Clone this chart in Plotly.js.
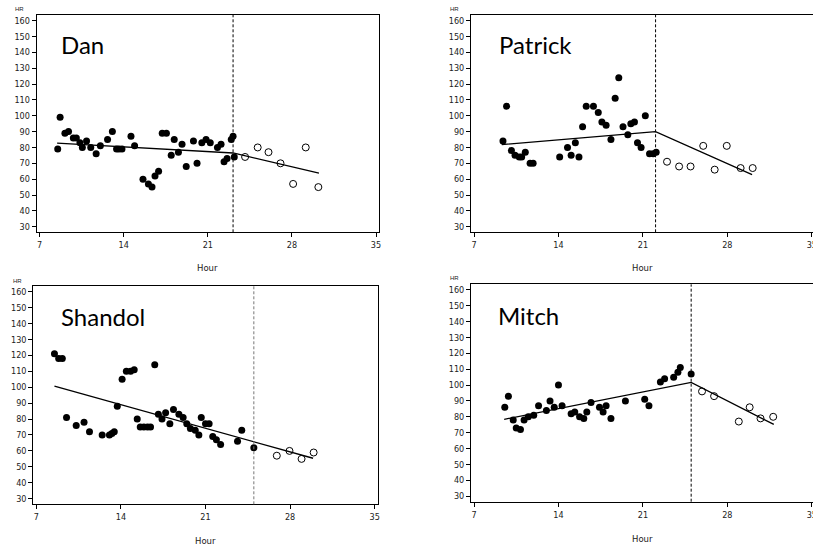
<!DOCTYPE html>
<html>
<head>
<meta charset="utf-8">
<script src="https://cdn.plot.ly/plotly-3.0.1.min.js"></script>
<style>html,body{margin:0;padding:0;background:#fff;}#chart{width:813px;height:548px;}</style>
</head>
<body>
<div id="chart"></div>
<script>
// ---------- Data ----------
const panelNames = ["Dan", "Patrick", "Shandol", "Mitch"];
const xTickVals = [7, 14, 21, 28, 35];
const yTickVals = [30, 40, 50, 60, 70, 80, 90, 100, 110, 120, 130, 140, 150, 160];

// Dan
const danFilledX = [8.5, 8.7, 9.1, 9.4, 9.8, 10.05, 10.35, 10.55, 10.9, 11.25, 11.7, 12.05, 12.65, 13.05, 13.4, 13.6, 13.85, 14.6, 14.9, 15.6, 16.05, 16.35, 16.6, 16.9, 17.2, 17.55, 17.95, 18.2, 18.55, 18.85, 19.2, 19.8, 20.1, 20.5, 20.85, 21.2, 21.8, 22.1, 22.35, 22.6, 22.95, 23.1, 23.2];
const danFilledY = [79, 99, 89, 90, 86, 86, 83, 80, 84, 80, 76, 81, 85, 90, 79, 79, 79, 87, 81, 60, 57, 55, 62, 65, 89, 89, 75, 85, 77, 82, 68, 84, 70, 83, 85, 83, 80, 82, 71, 73, 85, 87, 74];
const danOpenX = [24.1, 25.15, 26.05, 27.05, 28.1, 29.15, 30.2];
const danOpenY = [74, 80, 77, 70, 57, 80, 55];
const danLineX = [8.45, 23.1, 30.25];
const danLineY = [82.7, 76.5, 63.8];
const danBreak = 23.1;

// Patrick
const patFilledX = [9.4, 9.7, 10.1, 10.4, 10.75, 10.95, 11.25, 11.65, 11.9, 14.1, 14.75, 15.05, 15.4, 15.7, 16.0, 16.3, 16.9, 17.3, 17.6, 17.95, 18.35, 18.7, 19.0, 19.35, 19.75, 20.0, 20.3, 20.55, 20.85, 21.2, 21.55, 21.85, 22.1];
const patFilledY = [84, 106, 78, 75, 74, 74, 77, 70, 70, 74, 80, 75, 83, 74, 93, 106, 106, 102, 96, 94, 85, 111, 124, 93, 88, 95, 96, 83, 80, 100, 76, 76, 77];
const patOpenX = [23.0, 24.0, 24.95, 26.0, 26.95, 27.95, 29.1, 30.1];
const patOpenY = [71, 68, 68, 81, 66, 81, 67, 67];
const patLineX = [9.3, 22.05, 30.05];
const patLineY = [81.8, 90, 62.9];
const patBreak = 22.05;

// Shandol
const shaFilledX = [8.5, 8.85, 9.15, 9.5, 10.3, 10.95, 11.4, 12.45, 13.05, 13.25, 13.45, 13.7, 14.1, 14.45, 14.8, 15.1, 15.35, 15.6, 15.9, 16.2, 16.45, 16.8, 17.1, 17.4, 17.7, 18.05, 18.35, 18.8, 19.15, 19.45, 19.75, 20.15, 20.45, 20.65, 21.0, 21.3, 21.6, 21.9, 22.25, 23.65, 24.0, 25.0];
const shaFilledY = [121, 118, 118, 81, 76, 78, 72, 70, 70, 71, 72, 88, 105, 110, 110, 111, 80, 75, 75, 75, 75, 114, 83, 80, 84, 77, 86, 83, 81, 77, 74, 73, 70, 81, 77, 77, 69, 67, 64, 66, 73, 62];
const shaOpenX = [26.9, 27.95, 28.95, 29.95];
const shaOpenY = [57, 60, 55, 59];
const shaLineX = [8.5, 25, 29.9];
const shaLineY = [100.6, 65.8, 55.4];
const shaBreak = 25;

// Mitch
const mitFilledX = [9.55, 9.85, 10.25, 10.5, 10.85, 11.15, 11.5, 11.95, 12.35, 13.0, 13.3, 13.65, 14.0, 14.3, 15.05, 15.35, 15.75, 16.1, 16.35, 16.7, 17.4, 17.7, 17.95, 18.35, 19.55, 21.15, 21.5, 22.45, 22.8, 23.55, 23.9, 24.1, 25.0];
const mitFilledY = [86, 93, 78, 73, 72, 78, 80, 81, 87, 84, 90, 86, 100, 87, 82, 83, 80, 79, 83, 89, 86, 83, 87, 79, 90, 91, 87, 102, 104, 105, 108, 111, 107];
const mitOpenX = [25.9, 26.9, 28.95, 29.85, 30.75, 31.8];
const mitOpenY = [96, 93, 77, 86, 79, 80];
const mitLineX = [9.5, 25, 31.85];
const mitLineY = [78.4, 101.7, 75.2];
const mitBreak = 25;

// ---------- Layout helpers ----------
const W = 813, H = 548;
const px = v => v / W;
const py = v => 1 - v / H;

const panels = [
  {fx: danFilledX, fy: danFilledY, ox: danOpenX, oy: danOpenY, lx: danLineX, ly: danLineY, brk: danBreak,
   dom: [36.7, 379, 15, 232.3], xr: [6.75, 35.25], name: {x: 59, y: 44}, hr: {x: 19, y: 9}, hour: {x: 207, y: 268}, dashColor: "#000"},
  {fx: patFilledX, fy: patFilledY, ox: patOpenX, oy: patOpenY, lx: patLineX, ly: patLineY, brk: patBreak,
   dom: [471, 813, 15, 232.3], xr: [6.75, 35.1], name: {x: 497, y: 44}, hr: {x: 454.5, y: 9}, hour: {x: 642, y: 268}, dashColor: "#000"},
  {fx: shaFilledX, fy: shaFilledY, ox: shaOpenX, oy: shaOpenY, lx: shaLineX, ly: shaLineY, brk: shaBreak,
   dom: [33.3, 377.7, 286, 504.3], xr: [6.75, 35.25], name: {x: 59, y: 316}, hr: {x: 17.7, y: 281.3}, hour: {x: 205.5, y: 541.3}, dashColor: "#777"},
  {fx: mitFilledX, fy: mitFilledY, ox: mitOpenX, oy: mitOpenY, lx: mitLineX, ly: mitLineY, brk: mitBreak,
   dom: [471, 813, 284.3, 501.7], xr: [6.75, 35.1], name: {x: 496, y: 315}, hr: {x: 454.5, y: 278.3}, hour: {x: 642.5, y: 539}, dashColor: "#000"}
];

const tickFont = {family: "'Liberation Sans Narrow', 'Arial Narrow', 'DejaVu Sans Condensed', sans-serif", size: 9, color: "#222"};
const traces = [];
const layout = {
  width: W, height: H,
  margin: {l: 0, r: 0, t: 0, b: 0},
  paper_bgcolor: "#fff", plot_bgcolor: "#fff",
  showlegend: false,
  shapes: [], annotations: []
};

panels.forEach((p, i) => {
  const n = i + 1;
  const xa = "x" + (n === 1 ? "" : n);
  const ya = "y" + (n === 1 ? "" : n);
  traces.push({x: p.lx, y: p.ly, xaxis: xa, yaxis: ya, type: "scatter", mode: "lines",
    line: {color: "#000", width: 1.3}, hoverinfo: "skip"});
  traces.push({x: p.fx, y: p.fy, xaxis: xa, yaxis: ya, type: "scatter", mode: "markers",
    marker: {symbol: "circle", size: 7, color: "#000"}});
  traces.push({x: p.ox, y: p.oy, xaxis: xa, yaxis: ya, type: "scatter", mode: "markers",
    marker: {symbol: "circle-open", size: 7, color: "#000", line: {width: 1}}});

  const axCommon = {showline: true, mirror: true, linecolor: "#000", linewidth: 1,
    ticks: "outside", ticklen: 4, tickwidth: 1, tickcolor: "#000",
    showgrid: false, zeroline: false, tickfont: tickFont, fixedrange: true,
    ticklabeloverflow: "allow"};
  layout["xaxis" + (n === 1 ? "" : n)] = Object.assign({}, axCommon, {
    domain: [px(p.dom[0]), px(p.dom[1])], range: p.xr, anchor: ya,
    tickmode: "array", tickvals: xTickVals, ticktext: xTickVals.map(String)});
  layout["yaxis" + (n === 1 ? "" : n)] = Object.assign({}, axCommon, {
    domain: [py(p.dom[3]), py(p.dom[2])], range: [26.5, 163.5], anchor: xa,
    tickmode: "array", tickvals: yTickVals, ticktext: yTickVals.map(String)});

  layout.shapes.push({type: "line", xref: xa, yref: ya + " domain", x0: p.brk, x1: p.brk, y0: 0, y1: 1,
    line: {color: p.dashColor, width: 1, dash: "3px,2px"}, layer: "above"});

  layout.annotations.push({xref: "paper", yref: "paper", x: px(p.name.x), y: py(p.name.y),
    xanchor: "left", yanchor: "middle", showarrow: false, text: panelNames[i],
    font: {family: "Lato, 'Open Sans', sans-serif", size: 24, color: "#000"}});
  layout.annotations.push({xref: "paper", yref: "paper", x: px(p.hr.x), y: py(p.hr.y),
    xanchor: "center", yanchor: "middle", showarrow: false, text: "HR",
    font: {family: "'Liberation Sans', sans-serif", size: 6, color: "#222"}});
  layout.annotations.push({xref: "paper", yref: "paper", x: px(p.hour.x), y: py(p.hour.y),
    xanchor: "center", yanchor: "middle", showarrow: false, text: "Hour",
    font: {family: "'DejaVu Sans', sans-serif", size: 8.5, color: "#222"}});
});

Plotly.newPlot("chart", traces, layout, {staticPlot: true, displayModeBar: false});
</script>
</body>
</html>
